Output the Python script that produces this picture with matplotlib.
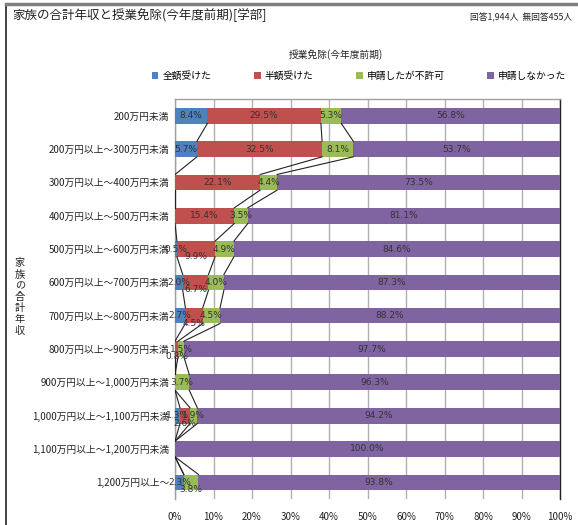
import matplotlib
matplotlib.use("Agg")
import matplotlib.pyplot as plt
import numpy as np
from matplotlib.patches import Patch
from matplotlib.lines import Line2D

plt.rcParams['font.family'] = ['Noto Sans CJK JP', 'DejaVu Sans']

categories = ["200万円未満", "200万円以上～300万円未満", "300万円以上～400万円未満",
              "400万円以上～500万円未満", "500万円以上～600万円未満", "600万円以上～700万円未満",
              "700万円以上～800万円未満", "800万円以上～900万円未満", "900万円以上～1,000万円未満",
              "1,000万円以上～1,100万円未満", "1,100万円以上～1,200万円未満", "1,200万円以上～"]
series_names = ["全額受けた", "半額受けた", "申請したが不許可", "申請しなかった"]
full = [8.4, 5.7, 0, 0, 0.5, 2.0, 2.7, 0, 0, 1.3, 0, 2.3]
half = [29.5, 32.5, 22.1, 15.4, 9.9, 6.7, 4.5, 0.8, 0, 2.6, 0, 0]
denied = [5.3, 8.1, 4.4, 3.5, 4.9, 4.0, 4.5, 1.5, 3.7, 1.9, 0, 3.8]
none_ = [56.8, 53.7, 73.5, 81.1, 84.6, 87.3, 88.2, 97.7, 96.3, 94.2, 100.0, 93.8]
xticks = [0, 10, 20, 30, 40, 50, 60, 70, 80, 90, 100]
colors = ["#4F81BD", "#C0504D", "#9BBB59", "#8064A2"]

# label vertical offsets (Excel collision placement), in row units
label_dy = {(1, 4): 0.22, (1, 5): 0.22, (1, 6): 0.22, (1, 7): 0.22, (1, 9): 0.22, (2, 11): 0.22}

W, H = 578, 525
fig = plt.figure(figsize=(W / 100, H / 100), dpi=100)
ax = fig.add_axes([175 / W, 1 - 499 / H, 385 / W, 400 / H])

data = [full, half, denied, none_]
y = np.arange(len(categories))
bh = 0.47
left = np.zeros(len(categories))
cums = []
for k, vals in enumerate(data):
    vals = np.array(vals, dtype=float)
    ax.barh(y, vals, left=left, height=bh, color=colors[k], zorder=3, linewidth=0)
    for i, v in enumerate(vals):
        if v > 0:
            dy = label_dy.get((k, i), 0)
            ax.text(left[i] + v / 2, y[i] + dy, f"{v:.1f}%", ha="center", va="center",
                    fontsize=6.5, color="#333333", zorder=5,
                    family=['DejaVu Sans'])
    left = left + vals
    cums.append(left.copy())

# series lines
for k in range(3):
    c = cums[k]
    for i in range(len(categories) - 1):
        ax.plot([c[i], c[i + 1]], [y[i] + bh / 2, y[i + 1] - bh / 2], color="#222222",
                lw=0.8, zorder=4)

ax.set_xlim(0, 100)
ax.set_ylim(len(categories) - 0.5, -0.5)
ax.set_xticks(xticks)
ax.set_xticklabels([f"{t}%" for t in xticks], fontsize=7, color="#222222")
ax.set_yticks(y)
ax.set_yticklabels(categories, fontsize=7, color="#222222")
ax.tick_params(axis="x", length=0, pad=9)
ax.tick_params(axis="y", length=0, pad=4)
ax.grid(axis="x", color="#B0B0B0", lw=1, zorder=0)
ax.set_axisbelow(True)
for s in ["left", "top"]:
    ax.spines[s].set_color("#A0A0A0")
    ax.spines[s].set_linewidth(1)
ax.spines["right"].set_color("#222222")
ax.spines["right"].set_linewidth(1)
ax.spines["bottom"].set_visible(False)

# titles and texts
fig.text(12 / W, 1 - 15 / H, "家族の合計年収と授業免除(今年度前期)[学部]", fontsize=9,
         ha="left", va="center", color="#222222")
fig.text(572 / W, 1 - 18 / H, "回答1,944人  無回答455人", fontsize=6.3,
         ha="right", va="center", color="#222222")
fig.text(336 / W, 1 - 55 / H, "授業免除(今年度前期)", fontsize=7,
         ha="center", va="center", color="#222222")
fig.text(20 / W, 1 - 297 / H, "\n".join("家族の合計年収"), fontsize=7.3,
         ha="center", va="center", color="#222222", linespacing=1.15)

handles = [Patch(facecolor=c, edgecolor="none") for c in colors]
fig.legend(handles, series_names, ncol=4, loc="center", bbox_to_anchor=(359 / W, 1 - 76 / H),
           frameon=False, fontsize=7, handlelength=0.7, handleheight=0.7,
           handletextpad=0.4, columnspacing=4.4)

# frame
fig.add_artist(Line2D([6 / W, 6 / W], [0, 1 - 4 / H], color="#222222", lw=1.2,
                      transform=fig.transFigure))
fig.add_artist(Line2D([6 / W, 1], [1 - 4 / H, 1 - 4 / H], color="#808080", lw=2.5,
                      transform=fig.transFigure))

fig.savefig("out.png", dpi=100)
